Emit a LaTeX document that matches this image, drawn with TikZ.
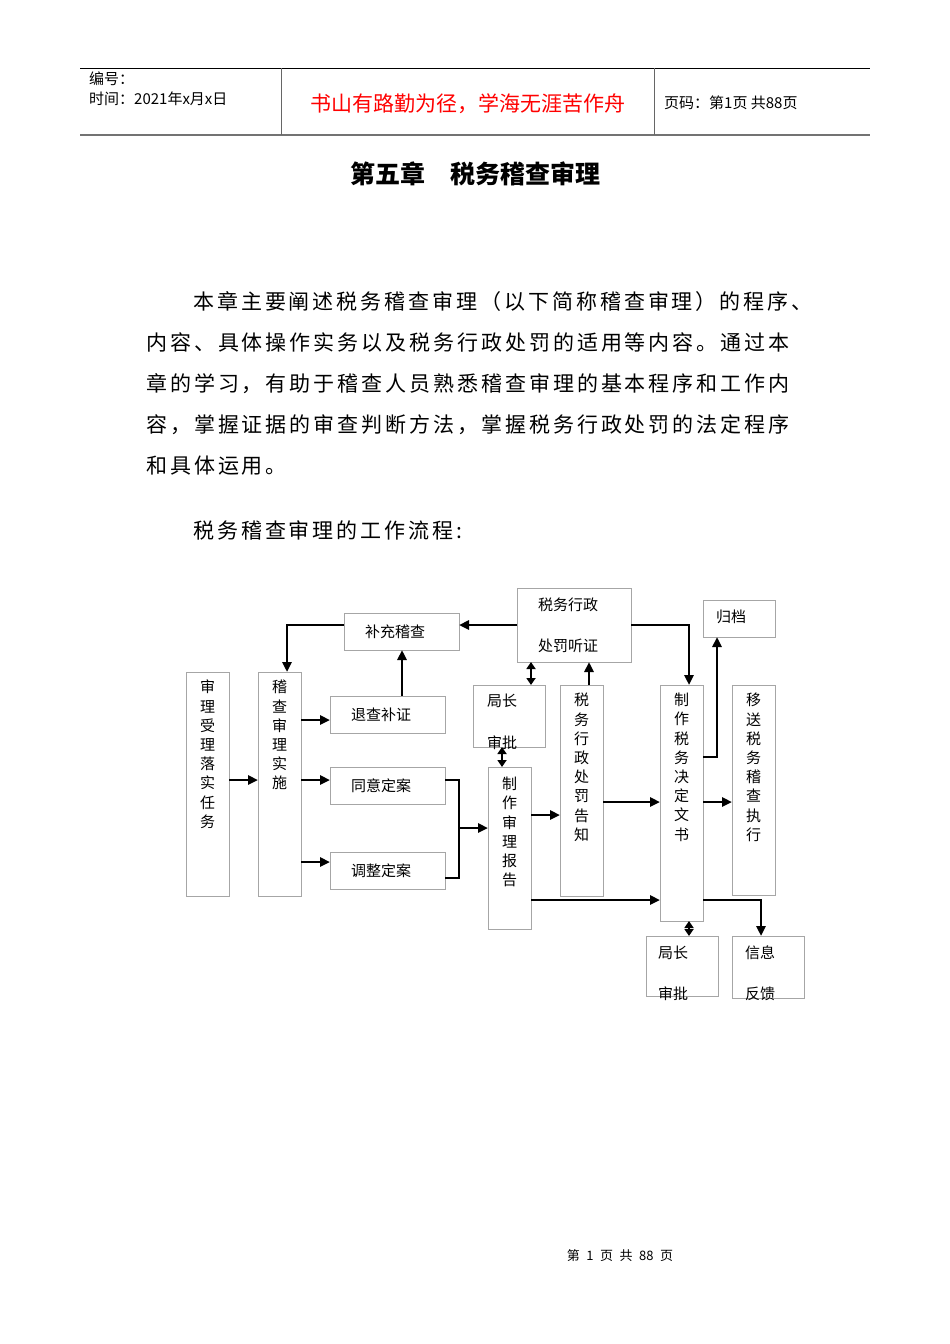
\documentclass[tikz,border=0pt]{standalone}
\usepackage{fontspec}
\setmainfont{Noto Sans CJK SC}
\usetikzlibrary{arrows.meta}
\begin{document}
\begin{tikzpicture}[x=1pt,y=-1pt,
  box/.style={draw=black!35,line width=0.8pt,inner sep=0pt,outer sep=0pt,anchor=north west},
  vt/.style={anchor=north,inner sep=0pt,align=center,font=\fontsize{15}{19.2}\selectfont},
  ht/.style={anchor=west,inner sep=0pt,font=\fontsize{15}{18}\selectfont},
  arr/.style={line width=2.5pt,-{Triangle[length=10pt,width=9pt]}},
  darr/.style={line width=2.5pt,{Triangle[length=7pt,width=9pt]}-{Triangle[length=7pt,width=9pt]}},
  ln/.style={line width=2.5pt},
  body/.style={anchor=west,inner sep=0pt,font=\fontsize{21}{24}\selectfont\addfontfeatures{LetterSpace=14}}]
\useasboundingbox (0,0) rectangle (950,1344);
% header
\draw[line width=0.8pt] (80,68) -- (870,68);
\draw[line width=1.6pt,black!55] (80,135) -- (870,135);
\draw[line width=0.8pt,black!60] (281,68) -- (281,135) (654,68) -- (654,135);
\node[anchor=west,inner sep=0pt,font=\fontsize{15}{16}\selectfont] (h1) at (89,79) {编号：};
\node[anchor=west,inner sep=0pt,font=\fontsize{15}{16}\selectfont] (h2) at (89,99) {时间：2021年x月x日};
\node[inner sep=0pt,text=red,font=\fontsize{21}{22}\selectfont] (h3) at (468,104) {书山有路勤为径，学海无涯苦作舟};
\node[anchor=west,inner sep=0pt,font=\fontsize{15}{16}\selectfont] (h4) at (664,103) {页码：第1页\ 共88页};
\node[inner sep=0pt,font=\fontsize{25}{26}\selectfont\bfseries] (title) at (475,174) {第五章\quad 税务稽查审理};
% body
\node[body] (p1) at (193,302) {本章主要阐述税务稽查审理（以下简称稽查审理）的程序、};
\node[body] (p2) at (146,343) {内容、具体操作实务以及税务行政处罚的适用等内容。通过本};
\node[body] (p3) at (146,384) {章的学习，有助于稽查人员熟悉稽查审理的基本程序和工作内};
\node[body] (p4) at (146,425) {容，掌握证据的审查判断方法，掌握税务行政处罚的法定程序};
\node[body] (p5) at (146,466) {和具体运用。};
\node[body] (p6) at (193,530) {税务稽查审理的工作流程:};
% boxes
\node[box,minimum width=43pt,minimum height=224pt] (sl) at (186,672) {};
\node[vt] at ([yshift=-8pt]sl.north) {审\\理\\受\\理\\落\\实\\任\\务};
\node[box,minimum width=43pt,minimum height=224pt] (jc) at (258,672) {};
\node[vt] at ([yshift=-8pt]jc.north) {稽\\查\\审\\理\\实\\施};
\node[box,minimum width=115pt,minimum height=37pt] (bc) at (344,613) {};
\node[ht] at ([xshift=21pt]bc.west) {补充稽查};
\node[box,minimum width=115pt,minimum height=37pt] (tc) at (330,696) {};
\node[ht] at ([xshift=21pt]tc.west) {退查补证};
\node[box,minimum width=115pt,minimum height=37pt] (ty) at (330,767) {};
\node[ht] at ([xshift=21pt]ty.west) {同意定案};
\node[box,minimum width=115pt,minimum height=37pt] (tz) at (330,852) {};
\node[ht] at ([xshift=21pt]tz.west) {调整定案};
\node[box,minimum width=114pt,minimum height=74pt] (tzh) at (517,588) {};
\node[ht] at (538,605) {税务行政};
\node[ht] at (538,646) {处罚听证};
\node[box,minimum width=72pt,minimum height=62pt] (jz1) at (473,685) {};
\node[ht] at (487,701) {局长};
\node[ht] at (487,743) {审批};
\node[box,minimum width=43pt,minimum height=162pt] (bg) at (488,767) {};
\node[vt] at ([yshift=-10pt]bg.north) {制\\作\\审\\理\\报\\告};
\node[box,minimum width=43pt,minimum height=211pt] (gz) at (560,685) {};
\node[vt] at ([yshift=-8pt]gz.north) {税\\务\\行\\政\\处\\罚\\告\\知};
\node[box,minimum width=43pt,minimum height=236pt] (jd) at (660,685) {};
\node[vt] at ([yshift=-8pt]jd.north) {制\\作\\税\\务\\决\\定\\文\\书};
\node[box,minimum width=72pt,minimum height=37pt] (gd) at (703,600) {};
\node[ht] at (716,617) {归档};
\node[box,minimum width=43pt,minimum height=210pt] (ys) at (732,685) {};
\node[vt] at ([yshift=-8pt]ys.north) {移\\送\\税\\务\\稽\\查\\执\\行};
\node[box,minimum width=72pt,minimum height=60pt] (jz2) at (646,936) {};
\node[ht] at (658,953) {局长};
\node[ht] at (658,994) {审批};
\node[box,minimum width=72pt,minimum height=62pt] (xx) at (732,936) {};
\node[ht] at (745,953) {信息};
\node[ht] at (745,994) {反馈};
\coordinate (m1) at (459,780);
\coordinate (m2) at (459,878);
\coordinate (m3) at (459,828);
% connectors
\draw[arr] (sl.east |- 0,780) -- (jc.west |- 0,780);
\draw[arr] (jc.east |- 0,720) -- (tc.west |- 0,720);
\draw[arr] (jc.east |- 0,780) -- (ty.west |- 0,780);
\draw[arr] (jc.east |- 0,862) -- (tz.west |- 0,862);
\draw[arr] (tc.north -| 402,0) -- (bc.south -| 402,0);
\draw[arr] (bc.west |- 0,625) -- (287,625) -- (jc.north -| 287,0);
\draw[arr] (tzh.west |- 0,625) -- (bc.east |- 0,625);
\draw[arr] (tzh.east |- 0,625) -- (689,625) -- (jd.north -| 689,0);
\draw[ln] (ty.east |- 0,780) -- (m1) -- (m2) -- (tz.east |- 0,878);
\draw[arr] (m3) -- (bg.west |- m3);
\draw[darr] (tzh.south -| 531,0) -- (jz1.north -| 531,0);
\draw[arr] (gz.north -| 589,0) -- (tzh.south -| 589,0);
\draw[darr] (jz1.south -| 502,0) -- (bg.north -| 502,0);
\draw[arr] (bg.east |- 0,815) -- (gz.west |- 0,815);
\draw[arr] (gz.east |- 0,802) -- (jd.west |- 0,802);
\draw[arr] (bg.east |- 0,900) -- (jd.west |- 0,900);
\draw[arr] (jd.east |- 0,757) -- (717,757) -- (gd.south -| 717,0);
\draw[arr] (jd.east |- 0,802) -- (ys.west |- 0,802);
\draw[arr] (jd.east |- 0,900) -- (761,900) -- (xx.north -| 761,0);
\draw[darr] (jd.south -| 689,0) -- (jz2.north -| 689,0);
% footer
\node[inner sep=0pt,font=\fontsize{13}{15}\selectfont] (ft) at (620,1256) {第\enspace 1\enspace 页\enspace 共\enspace 88\enspace 页};
\end{tikzpicture}
\end{document}
